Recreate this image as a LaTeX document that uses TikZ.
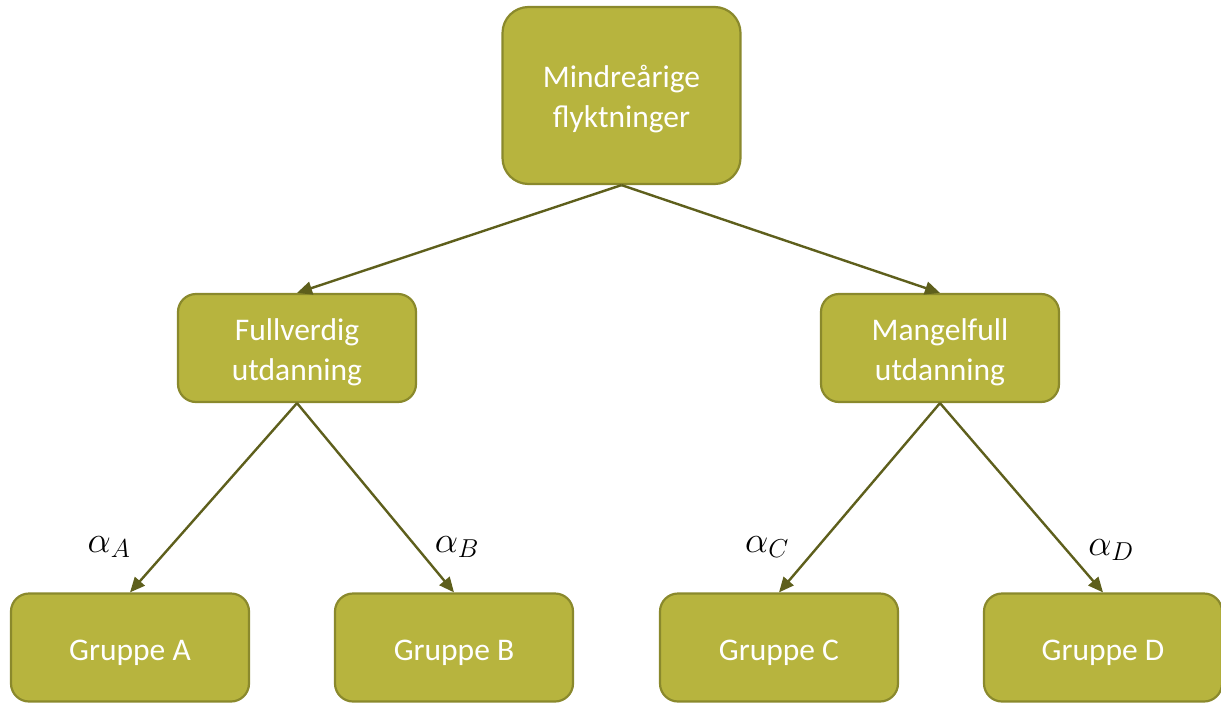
\RequirePackage{fix-cm}
\documentclass[tikz,border=0pt]{standalone}
\usepackage{fontspec}
\setmainfont{Carlito}
\usetikzlibrary{arrows.meta}
\definecolor{boxfill}{HTML}{B7B43E}
\definecolor{boxline}{HTML}{8A892C}
\definecolor{arrowcol}{HTML}{5E5F1C}
\tikzset{
  box/.style={draw=boxline, line width=2.2pt, fill=boxfill, rounded corners=18pt,
    minimum width=238pt, minimum height=108pt, inner sep=0pt},
  boxtext/.style={align=center, text=white,
    font=\fontsize{31.5}{40}\selectfont, inner sep=0pt},
  conn/.style={draw=arrowcol, line width=2.4pt, -{Triangle[length=15pt,width=13pt]}},
  alab/.style={font=\fontsize{37}{44}\selectfont, inner sep=0pt}
}
\begin{document}
\begin{tikzpicture}[x=1pt,y=-1pt]
\useasboundingbox (0,0) rectangle (1221,704);
\node[box, minimum height=177pt, rounded corners=26pt] (top) at (621.5,95.5) {};
\node[box] (full) at (297,348) {};
\node[box] (mang) at (940,348) {};
\node[box] (ga) at (130,647.5) {};
\node[box] (gb) at (454,647.5) {};
\node[box] (gc) at (779,647.5) {};
\node[box] (gd) at (1103,647.5) {};
\node[boxtext] (ttop) at ([yshift=-4pt]top.center) {Mindreårige\\flyktninger};
\node[boxtext] (tfull) at ([yshift=-4pt]full.center) {Fullverdig\\utdanning};
\node[boxtext] (tmang) at ([yshift=-4pt]mang.center) {Mangelfull\\utdanning};
\node[boxtext] (tga) at ([yshift=-5pt]ga.center) {Gruppe A};
\node[boxtext] (tgb) at ([yshift=-5pt]gb.center) {Gruppe B};
\node[boxtext] (tgc) at ([yshift=-5pt]gc.center) {Gruppe C};
\node[boxtext] (tgd) at ([yshift=-5pt]gd.center) {Gruppe D};
\draw[conn] (top.south) -- (full.north);
\draw[conn] (top.south) -- (mang.north);
\draw[conn] (full.south) -- (ga.north);
\draw[conn] (full.south) -- (gb.north);
\draw[conn] (mang.south) -- (gc.north);
\draw[conn] (mang.south) -- (gd.north);
\node[alab] (la) at (109,547) {$\alpha_A$};
\node[alab] (lb) at (457,547) {$\alpha_B$};
\node[alab] (lc) at (767,547) {$\alpha_C$};
\node[alab] (ld) at (1111,550) {$\alpha_D$};
\end{tikzpicture}
\end{document}
